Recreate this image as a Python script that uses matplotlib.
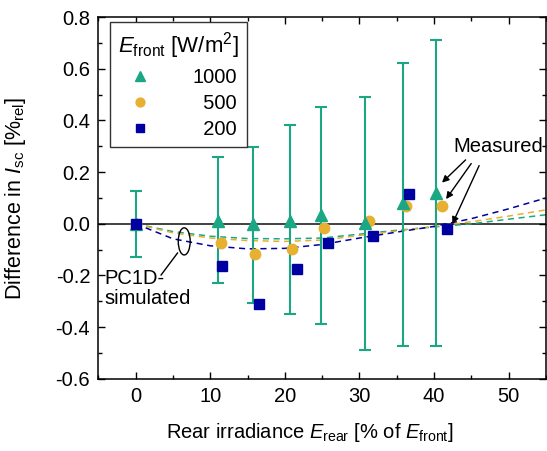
import numpy as np
import matplotlib
matplotlib.use("Agg")
import matplotlib.pyplot as plt
from matplotlib.patches import Ellipse

plt.rcParams['font.family'] = ['Liberation Sans', 'DejaVu Sans']
plt.rcParams['mathtext.fontset'] = 'custom'
plt.rcParams['mathtext.rm'] = 'Liberation Sans'
plt.rcParams['mathtext.it'] = 'Liberation Sans:italic'

# measured data
x_1000 = [0, 11.0, 15.7, 20.7, 24.9, 30.8, 35.8, 40.3]
y_1000 = [0, 0.012, 0.0, 0.012, 0.035, 0.005, 0.08, 0.12]
err_lo = [0.128, 0.24, 0.306, 0.36, 0.422, 0.492, 0.552, 0.592]
err_hi = [0.128, 0.248, 0.298, 0.371, 0.418, 0.485, 0.543, 0.592]

x_500 = [0, 11.4, 16.0, 21.0, 25.2, 31.3, 36.2, 41.0]
y_500 = [0, -0.075, -0.116, -0.098, -0.015, 0.012, 0.07, 0.07]

x_200 = [0, 11.6, 16.5, 21.6, 25.8, 31.8, 36.7, 41.8]
y_200 = [0, -0.165, -0.31, -0.173, -0.075, -0.046, 0.116, -0.02]

# PC1D simulated curves
x_sim = [0, 5, 10, 15, 20, 25, 30, 35, 40, 45, 50, 55]
sim_1000 = [0, -0.03, -0.048, -0.057, -0.058, -0.055, -0.04, -0.025, -0.012, 0.0, 0.018, 0.035]
sim_500 = [0, -0.035, -0.055, -0.065, -0.068, -0.063, -0.045, -0.028, -0.01, 0.008, 0.03, 0.054]
sim_200 = [0, -0.058, -0.085, -0.097, -0.095, -0.08, -0.055, -0.032, -0.01, 0.02, 0.058, 0.10]

c_teal = '#1ba784'
c_orange = '#e8b030'
c_navy = '#0000a0'

fig = plt.figure(figsize=(5.47, 4.51), dpi=100)
ax = fig.add_axes([0.180, 0.160, 0.818, 0.802])

ax.axhline(0, color='#333333', lw=1.3, zorder=1)

ax.plot(x_sim, sim_1000, '--', color=c_teal, lw=1.1, dashes=(4, 3), zorder=2)
ax.plot(x_sim, sim_500, '--', color=c_orange, lw=1.1, dashes=(4, 3), zorder=2)
ax.plot(x_sim, sim_200, '--', color=c_navy, lw=1.1, dashes=(4, 3), zorder=2)

ax.errorbar(x_1000, y_1000, yerr=[err_lo, err_hi], fmt='none', ecolor=c_teal,
            elinewidth=1.5, capsize=4, capthick=1.5, zorder=3)
h1, = ax.plot(x_1000, y_1000, '^', color=c_teal, ms=9, ls='none', zorder=5, label='1000')
h2, = ax.plot(x_500, y_500, 'o', color=c_orange, ms=7.5, ls='none', zorder=4, label='\u2007500')
h3, = ax.plot(x_200, y_200, 's', color=c_navy, ms=6.5, ls='none', zorder=6, label='\u2007200')

ax.set_xlim(-5, 55)
ax.set_ylim(-0.6, 0.8)
ax.set_xticks([0, 10, 20, 30, 40, 50])
ax.set_xticks(np.arange(-5, 56, 5), minor=True)
ax.set_yticks([-0.6, -0.4, -0.2, 0.0, 0.2, 0.4, 0.6, 0.8])
ax.set_yticks(np.arange(-0.6, 0.81, 0.1), minor=True)
ax.set_yticklabels(['-0.6', '-0.4', '-0.2', '0.0', '0.2', '0.4', '0.6', '0.8'])
ax.tick_params(which='both', direction='in', top=True, right=True, labelsize=14.5, pad=6)
ax.tick_params(which='major', length=5, width=1)
ax.tick_params(which='minor', length=3, width=1)
for s in ax.spines.values():
    s.set_linewidth(1.1)

ax.set_xlabel(r'Rear irradiance $E_{\mathrm{rear}}$ [% of $E_{\mathrm{front}}$]', fontsize=14.5)
ax.set_ylabel(r'Difference in $I_{\mathrm{sc}}$ [%$_{\mathrm{rel}}$]', fontsize=15.5)
ax.xaxis.set_label_coords(0.473, -0.116)
ax.yaxis.set_label_coords(-0.157, 0.50)

leg = ax.legend(handles=[h1, h2, h3], loc='upper left', bbox_to_anchor=(0.0257, 0.986),
                borderaxespad=0,
                title=r'$E_{\mathrm{front}}$ [W/m$^2$]', fontsize=14.5, title_fontsize=16,
                frameon=True, fancybox=False, edgecolor='#333333', framealpha=1,
                handletextpad=1.6, borderpad=0.4, labelspacing=0.35, markerscale=0.85)
leg.get_frame().set_linewidth(1.0)

# annotations
ax.text(54.6, 0.3, 'Measured', fontsize=14.5, ha='right', va='center')
ax.annotate('', xy=(40.8, 0.152), xytext=(44.5, 0.255),
            arrowprops=dict(arrowstyle='-|>', color='black', lw=1, mutation_scale=10))
ax.annotate('', xy=(41.4, 0.087), xytext=(45.2, 0.242),
            arrowprops=dict(arrowstyle='-|>', color='black', lw=1, mutation_scale=10))
ax.annotate('', xy=(42.3, -0.01), xytext=(46.2, 0.235),
            arrowprops=dict(arrowstyle='-|>', color='black', lw=1, mutation_scale=10))

ax.add_patch(Ellipse((6.5, -0.068), 1.6, 0.105, fill=False, ec='black', lw=1, zorder=6))
ax.plot([5.6, 3.4], [-0.113, -0.198], color='black', lw=1)
ax.text(-4.2, -0.25, 'PC1D-\nsimulated', fontsize=14.5, ha='left', va='center', linespacing=1.05)

fig.savefig('out.png', dpi=100)
